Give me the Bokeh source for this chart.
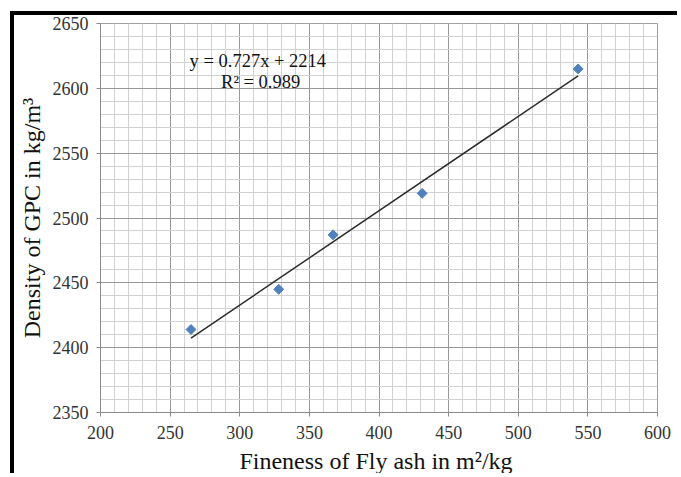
import numpy as np
from bokeh.plotting import figure
from bokeh.models import Range1d, SingleIntervalTicker, Label
from bokeh.embed import file_html
from bokeh.resources import INLINE

# ---- data ----
fineness = [265, 328, 367, 431, 543]          # m^2/kg
density = [2414, 2445, 2487, 2519, 2615]      # kg/m^3
x_limits = [200, 600]
y_limits = [2350, 2650]
equation_text = "y = 0.727x + 2214"
r2_text = "R\u00b2 = 0.989"
x_label = "Fineness of Fly  ash in m\u00b2/kg"
y_label = "Density of GPC in kg/m\u00b3"

FONT = "Liberation Serif"

p = figure(width=667, height=462,
           x_range=Range1d(*x_limits), y_range=Range1d(*y_limits),
           output_backend="svg", toolbar_location=None,
           min_border_left=86, min_border_right=24,
           min_border_top=8, min_border_bottom=65,
           background_fill_color="white", border_fill_color="white")
p.styles = {"border-top": "4px solid black", "border-left": "4px solid black",
            "margin-left": "10px", "margin-top": "11px"}

p.outline_line_color = "#a0a0a0"

p.xaxis.ticker = SingleIntervalTicker(interval=50, num_minor_ticks=5)
p.yaxis.ticker = SingleIntervalTicker(interval=50, num_minor_ticks=5)

for g in (p.xgrid, p.ygrid):
    g.grid_line_color = "#989898"
    g.grid_line_width = 1
    g.minor_grid_line_color = "#d2d2d2"
    g.minor_grid_line_width = 1

for ax in (p.xaxis, p.yaxis):
    ax.axis_line_color = "#8a8a8a"
    ax.major_tick_line_color = "#8a8a8a"
    ax.major_tick_out = 4
    ax.major_tick_in = 0
    ax.minor_tick_line_color = None
    ax.major_label_text_font = FONT
    ax.major_label_text_font_size = "18px"
    ax.major_label_text_color = "#333333"
    ax.axis_label_text_font = FONT
    ax.axis_label_text_font_size = "24px"
    ax.axis_label_text_font_style = "normal"
    ax.axis_label_text_color = "#111111"

p.xaxis.axis_label = x_label
p.yaxis.axis_label = y_label
p.xaxis.major_label_standoff = 9
p.yaxis.major_label_standoff = 8
p.xaxis.axis_label_standoff = 6
p.yaxis.axis_label_standoff = 5

# linear trendline from least squares fit
slope, intercept = np.polyfit(fineness, density, 1)
tx = np.array([min(fineness), max(fineness)], dtype=float)
p.line(tx, slope * tx + intercept, line_color="#2b2b2b", line_width=1.5)

p.scatter(fineness, density, marker="square", angle=np.pi / 4, size=7,
          fill_color="#4F81BD", line_color="#4F81BD")

p.add_layout(Label(x=313, y=2621, text=equation_text, text_align="center",
                   text_baseline="middle", text_font=FONT,
                   text_font_size="18.5px", text_color="#111111"))
p.add_layout(Label(x=315, y=2605, text=r2_text, text_align="center",
                   text_baseline="middle", text_font=FONT,
                   text_font_size="18.5px", text_color="#111111"))

open("out.html", "w").write(file_html(p, INLINE))
